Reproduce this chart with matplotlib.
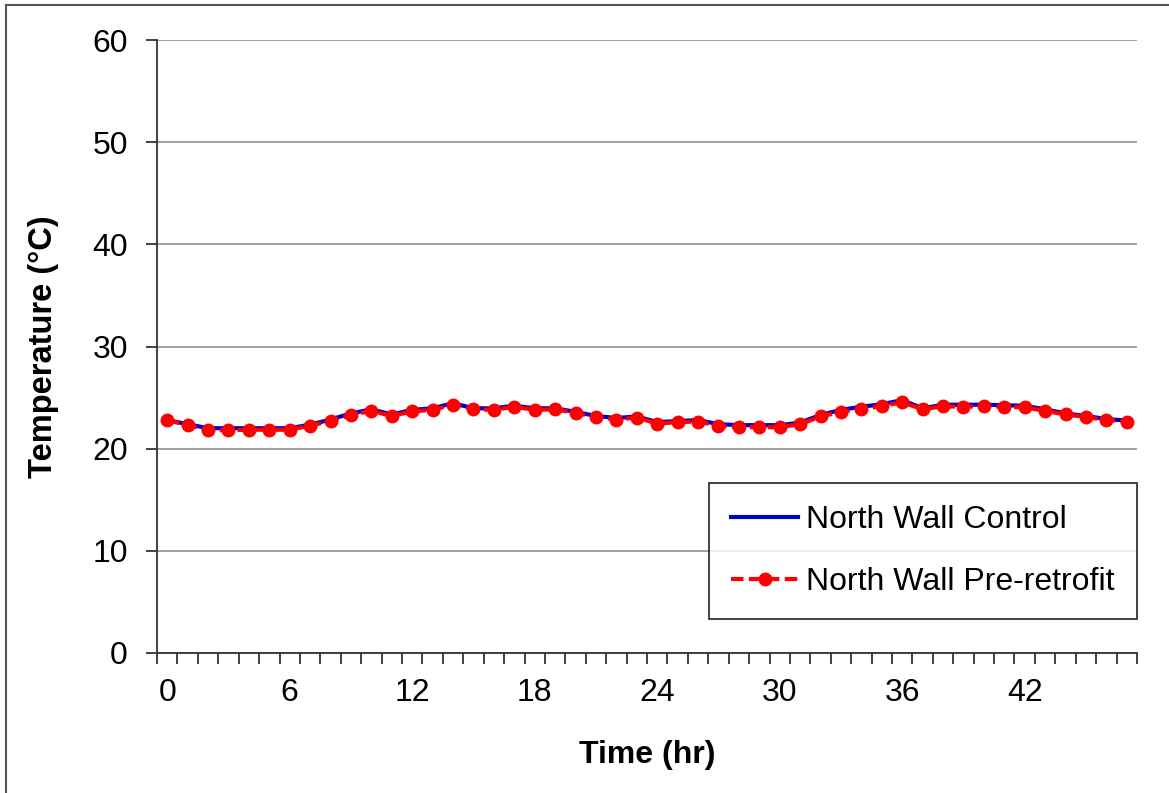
import numpy as np
import matplotlib.pyplot as plt
from matplotlib.lines import Line2D

plt.rcParams['font.family'] = ['Liberation Sans', 'DejaVu Sans']

# hourly temperatures (degC)
hours = np.arange(48)
control = [22.8, 22.4, 22.0, 22.0, 22.0, 22.0, 22.0, 22.35, 22.85, 23.45,
           23.85, 23.35, 23.8, 23.95, 24.45, 23.95, 23.95, 24.2, 23.95, 23.95,
           23.6, 23.2, 23.0, 23.15, 22.6, 22.7, 22.8, 22.4, 22.3, 22.3,
           22.3, 22.55, 23.3, 23.8, 24.1, 24.35, 24.75, 23.95, 24.3, 24.3,
           24.3, 24.25, 24.2, 23.85, 23.45, 23.2, 22.9, 22.75]
pre_retrofit = [22.8, 22.3, 21.8, 21.8, 21.85, 21.85, 21.85, 22.25, 22.7, 23.3,
                23.7, 23.2, 23.65, 23.8, 24.3, 23.85, 23.8, 24.1, 23.8, 23.85,
                23.5, 23.1, 22.85, 23.05, 22.45, 22.6, 22.65, 22.25, 22.1, 22.1,
                22.1, 22.4, 23.15, 23.6, 23.9, 24.15, 24.55, 23.85, 24.15, 24.1,
                24.15, 24.1, 24.05, 23.7, 23.35, 23.1, 22.8, 22.65]
xtick_labels = ['0', '6', '12', '18', '24', '30', '36', '42']

fig = plt.figure(figsize=(11.69, 7.93), dpi=100)
ax = fig.add_axes([157/1169, 1 - 653/793, 980/1169, 613/793])

ax.plot(hours, control, color='#0000cc', lw=3, label='North Wall Control', zorder=3)
ax.plot(hours, pre_retrofit, color='#ff0000', lw=3, ls=(0, (3, 1.3)), marker='o',
        markersize=9, label='North Wall Pre-retrofit', zorder=4)

ax.set_xlim(-0.5, 47.5)
ax.set_ylim(0, 60)
ax.set_yticks(np.arange(0, 61, 10))
ax.yaxis.grid(True, color='#999999', lw=1.3)
ax.set_axisbelow(True)

# category axis: labels centred, tick marks between categories
ax.set_xticks(np.arange(0, 48, 6))
ax.set_xticklabels(xtick_labels)
ax.set_xticks(np.arange(-0.5, 48, 1), minor=True)
ax.tick_params(axis='x', which='major', length=0, pad=18, labelsize=23)
ax.tick_params(axis='x', which='minor', length=8, width=1.3, color='#333333', direction='out')
ax.tick_params(axis='y', length=8, width=1.3, color='#333333', pad=13, labelsize=23)

for s in ['top', 'right']:
    ax.spines[s].set_visible(False)
for s in ['left', 'bottom']:
    ax.spines[s].set_color('#333333')
    ax.spines[s].set_linewidth(1.3)

ax.set_xlabel('Time (hr)', fontsize=23, fontweight='bold', labelpad=23)
ax.set_ylabel('Temperature (°C)', fontsize=23.5, fontweight='bold', labelpad=24)

leg = ax.legend(loc='lower right', bbox_to_anchor=(1.0, 0.055), fontsize=23,
                frameon=True, fancybox=False, handlelength=2.1, handletextpad=0.25,
                borderpad=0.7, labelspacing=1.0, borderaxespad=0)
leg.get_frame().set_edgecolor('black')
leg.get_frame().set_linewidth(1.3)

# thin frame around the figure (top and left edges)
fig.add_artist(Line2D([6/1169, 6/1169], [0, 1 - 5/793], color='#555555', lw=1.5,
                      transform=fig.transFigure))
fig.add_artist(Line2D([6/1169, 1168/1169], [1 - 5/793, 1 - 5/793], color='#555555', lw=1.5,
                      transform=fig.transFigure))

fig.savefig('out.png', dpi=100)
